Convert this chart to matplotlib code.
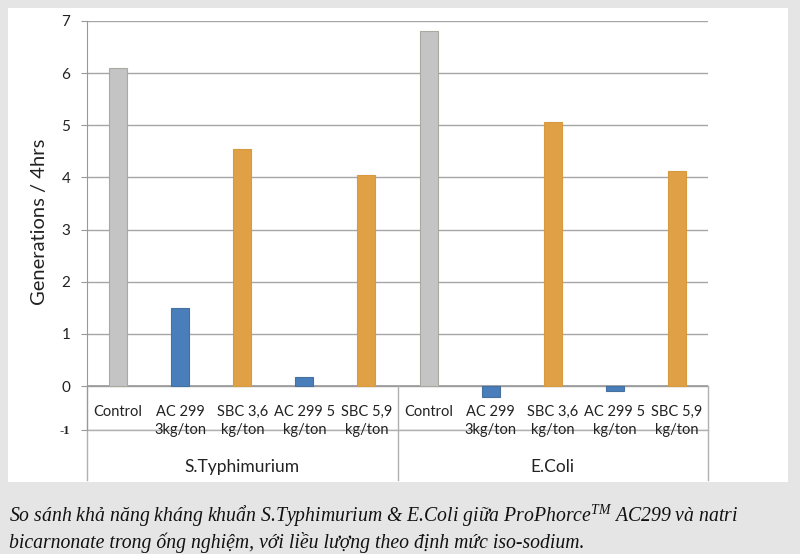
import matplotlib
matplotlib.use("Agg")
import matplotlib.pyplot as plt
import matplotlib.transforms as mtransforms
from matplotlib.patches import Rectangle
from matplotlib.lines import Line2D

plt.rcParams['font.family'] = ['Lato', 'DejaVu Sans']
plt.rcParams['mathtext.fontset'] = 'custom'
plt.rcParams['mathtext.it'] = 'Liberation Serif:italic'
plt.rcParams['mathtext.rm'] = 'Liberation Serif:italic'

# donnees
categories = ["Control", "AC 299\n3kg/ton", "SBC 3,6\nkg/ton", "AC 299 5\nkg/ton", "SBC 5,9\nkg/ton",
              "Control", "AC 299\n3kg/ton", "SBC 3,6\nkg/ton", "AC 299 5\nkg/ton", "SBC 5,9\nkg/ton"]
groupes = ["S.Typhimurium", "E.Coli"]
valeurs = [6.1, 1.5, 4.55, 0.18, 4.05,
           6.8, -0.22, 5.07, -0.09, 4.13]
types = ["control", "ac", "sbc", "ac", "sbc",
         "control", "ac", "sbc", "ac", "sbc"]
y_ticks = [0, 1, 2, 3, 4, 5, 6, 7]

couleurs = {"control": "#c4c4c4", "ac": "#4a7ebb", "sbc": "#e0a146"}
bords = {"control": "#a9a9a0", "ac": "#44719f", "sbc": "#d79a40"}

W, H = 800, 554
fig = plt.figure(figsize=(W / 100, H / 100), dpi=100, facecolor="#e5e5e5")
fig.patches.append(Rectangle((8 / W, 1 - 482 / H), 780 / W, 474 / H, transform=fig.transFigure,
                             facecolor="white", edgecolor="none", zorder=-5))

# zone du graphique (pixels)
x0, x1, ytop, ybot = 87, 708, 21, 430
ax = fig.add_axes([x0 / W, 1 - ybot / H, (x1 - x0) / W, (ybot - ytop) / H])
ax.set_facecolor("none")

pos = list(range(len(categories)))
ax.bar(pos, valeurs, width=0.29,
       color=[couleurs[t] for t in types], edgecolor=[bords[t] for t in types], linewidth=0.8, zorder=3)

unit = (386 - ytop) / 7.0
ymin = -(ybot - 386) / unit
ax.set_ylim(ymin, 7)
ax.set_xlim(-0.5, len(categories) - 0.5)

ax.set_yticks([ymin] + y_ticks)
ax.set_yticklabels(["-1"] + [str(v) for v in y_ticks], fontsize=11, color="#222222")
lab_m1 = ax.get_yticklabels()[0]
lab_m1.set_fontfamily("Liberation Serif")
lab_m1.set_fontweight("bold")
lab_m1.set_fontsize(9)
ax.tick_params(axis="y", length=4, width=0.8, color="#999999", pad=8)
ax.tick_params(axis="x", length=0, labelbottom=False)
ax.grid(axis="y", color="#a6a6a6", linewidth=1.0, zorder=0)
ax.set_axisbelow(True)
for s in ["top", "right", "bottom"]:
    ax.spines[s].set_visible(False)
ax.spines["left"].set_color("#999999")
ax.axhline(0, color="#999999", linewidth=1.2, zorder=2)
ax.axhline(ymin, color="#b0b0b0", linewidth=1.0, zorder=1, clip_on=False)

fig.text(40 / W, 1 - 222 / H, "Generations / 4hrs", rotation=90, ha="center", va="center",
         fontsize=14.5, color="#222222")

# etiquettes des categories
tr = mtransforms.blended_transform_factory(ax.transData, fig.transFigure)
for i, c in enumerate(categories):
    ax.text(i, 1 - 405 / H, c, transform=tr, ha="center", va="top", fontsize=10.5,
            linespacing=1.35, color="#222222", zorder=5, clip_on=False)
for g, nom in enumerate(groupes):
    ax.text(g * 5 + 2, 1 - 467 / H, nom, transform=tr, ha="center", va="center",
            fontsize=12.5, color="#222222", clip_on=False)
for xs in [-0.5, 4.5, 9.5]:
    ax.add_line(Line2D([xs, xs], [1 - 386 / H, 1 - 480 / H], transform=tr, color="#b0b0b0",
                       linewidth=1.0, clip_on=False))

legende = ("So sánh khả năng kháng khuẩn S.Typhimurium & E.Coli giữa ProPhorce$^{TM}$ AC299 và natri\n"
           "bicarnonate trong ống nghiệm, với liều lượng theo định mức iso-sodium.")
fig.text(9 / W, 1 - 503 / H, legende, ha="left", va="top", fontsize=14.2, style="italic",
         family="Liberation Serif", linespacing=1.2, color="#111111")

fig.savefig("out.png", dpi=100, facecolor=fig.get_facecolor())
